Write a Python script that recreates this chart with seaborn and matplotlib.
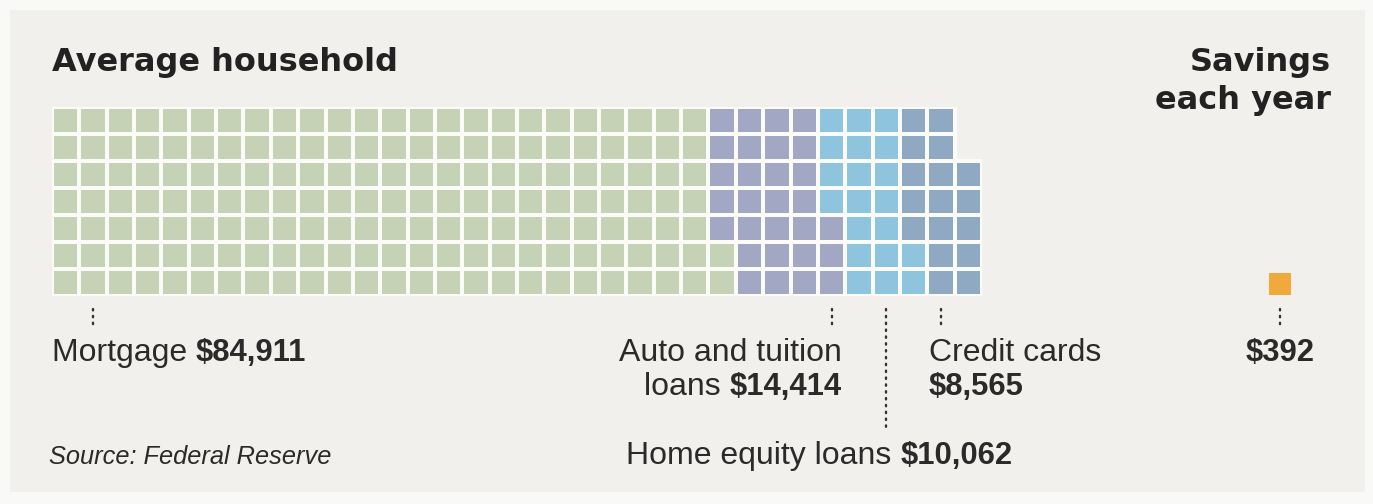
import numpy as np
import pandas as pd
import matplotlib
matplotlib.use("Agg")
import matplotlib.pyplot as plt
from matplotlib.colors import ListedColormap, to_rgba
from matplotlib.patches import Rectangle
import seaborn as sns

# Debt categories and average household balances (dollars)
categories = ["Mortgage", "Auto and tuition loans", "Home equity loans", "Credit cards"]
balances = [84911, 14414, 10062, 8565]
savings = 392
unit = 500          # dollars per square
n_rows = 7

colors = ["#c6d2b6", "#a2a7c4", "#8fc4df", "#8fa9c2"]
savings_color = "#f0a93a"
panel_bg = "#f1f0ec"
outer_bg = "#f9f9f7"
gap_color = "#fbfbf8"
ink = "#222222"

# Build the waffle matrix: fill column by column, bottom to top
counts = [int(round(b / unit)) for b in balances]
total = sum(counts)
n_cols = int(np.ceil(total / n_rows))
grid = np.full((n_rows, n_cols), np.nan)
codes = np.repeat(np.arange(len(counts)), counts)
for i, code in enumerate(codes):
    col, r = divmod(i, n_rows)
    grid[n_rows - 1 - r, col] = code
waffle = pd.DataFrame(grid)

W, H = 1373, 504
fig = plt.figure(figsize=(W / 100, H / 100), dpi=100)
fig.patch.set_facecolor(outer_bg)

# light panel behind everything
fig.patches.append(Rectangle((10 / W, 12 / H), 1355 / W, 482 / H, transform=fig.transFigure,
                             facecolor=panel_bg, edgecolor="none", zorder=-5))

def fx(px):
    return px / W

def fy(py):
    return 1 - py / H

gx0, gx1, gy0, gy1 = 52, 982, 107, 296
ax = fig.add_axes([fx(gx0), fy(gy1), fx(gx1) - fx(gx0), (gy1 - gy0) / H])
sns.heatmap(waffle, ax=ax, cmap=ListedColormap(colors), vmin=-0.5, vmax=len(colors) - 0.5,
            cbar=False, linewidths=2.6, linecolor=gap_color, xticklabels=False, yticklabels=False)
ax.set_facecolor("none")
ax.patch.set_alpha(0)
for s in ax.spines.values():
    s.set_visible(False)

# no outline around the empty cells at the end of the last column
mesh = ax.collections[0]
filled = ~np.isnan(waffle.values.ravel())
edge = np.array([to_rgba(gap_color) if f else (0, 0, 0, 0) for f in filled])
mesh.set_edgecolor(edge)

# savings square, area scaled to its dollar value
side = np.sqrt(savings / unit) * 0.92
sx = 44.9
ax.add_patch(Rectangle((sx - side / 2, n_rows - side - 0.02), side, side, facecolor=savings_color,
                       edgecolor="none", clip_on=False))

# dotted leader lines (x in column units, y given in pixels below the grid)
def leader(xc, y_top_px, y_bot_px):
    yt = n_rows + (y_top_px - gy1) / ((gy1 - gy0) / n_rows)
    yb = n_rows + (y_bot_px - gy1) / ((gy1 - gy0) / n_rows)
    ax.plot([xc, xc], [yt, yb], color="#333333", lw=1.7, ls=(0, (0.6, 2.3)), clip_on=False,
            dash_capstyle="round")

leader(1.5, 309, 327)
leader(28.5, 309, 329)
leader(30.5, 309, 430)
leader(32.5, 309, 329)
leader(sx, 309, 327)

title_font = dict(family="DejaVu Sans", weight="bold", size=23, color=ink)
fig.text(fx(52), fy(62), "Average household", ha="left", va="center", **title_font)
fig.text(fx(1331), fy(62), "Savings", ha="right", va="center", **title_font)
fig.text(fx(1331), fy(101), "each year", ha="right", va="center", **title_font)

lab = dict(family="Liberation Sans", size=23, color="#2a2a2a")
labb = dict(family="Liberation Sans", size=22.3, color="#2a2a2a", weight="bold")

def two_part(x, y, a, b, ha="left"):
    r = fig.canvas.get_renderer()
    t1 = fig.text(fx(x), fy(y), a + " ", ha="left", va="center", **lab)
    w1 = t1.get_window_extent(renderer=r).width
    t2 = fig.text(fx(x), fy(y), b, ha="left", va="center", **labb)
    w2 = t2.get_window_extent(renderer=r).width
    left = x if ha == "left" else x - (w1 + w2)
    t1.set_position((fx(left), fy(y)))
    t2.set_position((fx(left + w1), fy(y)))

two_part(52, 353, "Mortgage", "$84,911")
fig.text(fx(842), fy(353), "Auto and tuition", ha="right", va="center", **lab)
two_part(842, 387, "loans", "$14,414", ha="right")
fig.text(fx(929), fy(353), "Credit cards", ha="left", va="center", **lab)
fig.text(fx(929), fy(387), "$8,565", ha="left", va="center", **labb)
fig.text(fx(1280), fy(353), "$392", ha="center", va="center", **labb)
two_part(626, 456, "Home equity loans", "$10,062")
fig.text(fx(49), fy(457), "Source: Federal Reserve", ha="left", va="center",
         family="Liberation Sans", style="italic", size=18.3, color="#2a2a2a")

fig.savefig("out.png", dpi=100, facecolor=fig.get_facecolor())
